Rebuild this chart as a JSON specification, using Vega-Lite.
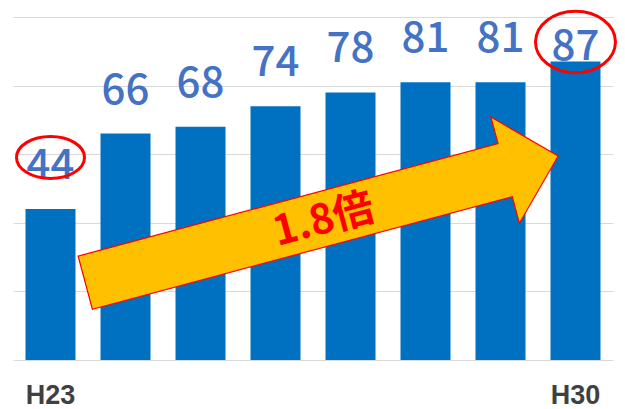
{
  "$schema": "https://vega.github.io/schema/vega-lite/v6.json",
  "width": 600,
  "height": 343,
  "autosize": {"type": "none"},
  "padding": {"left": 13, "top": 17, "right": 12, "bottom": 49},
  "background": "white",
  "config": {"view": {"stroke": null}},
  "data": {"values": [
    {"year": "H23", "value": 44},
    {"year": "H24", "value": 66},
    {"year": "H25", "value": 68},
    {"year": "H26", "value": 74},
    {"year": "H27", "value": 78},
    {"year": "H28", "value": 81},
    {"year": "H29", "value": 81},
    {"year": "H30", "value": 87}
  ]},
  "encoding": {
    "x": {
      "field": "year", "type": "nominal", "sort": null,
      "scale": {"paddingInner": 0.3333, "paddingOuter": 0.1667},
      "axis": {
        "title": null, "domain": false, "ticks": false, "tickSize": 0, "grid": false,
        "labelExpr": "datum.value == 'H23' || datum.value == 'H30' ? datum.value : ''",
        "labelFont": "Liberation Sans", "labelFontSize": 27, "labelFontWeight": "bold",
        "labelColor": "#404040", "labelBaseline": "alphabetic", "labelPadding": 43,
        "labelAngle": 0, "labelOverlap": false
      }
    },
    "y": {
      "field": "value", "type": "quantitative",
      "scale": {"domain": [0, 100], "nice": false},
      "axis": {
        "title": null, "labels": false, "ticks": false, "domain": false,
        "values": [0, 20, 40, 60, 80, 100], "gridColor": "#d9d9d9", "gridWidth": 1
      }
    }
  },
  "layer": [
    {"mark": {"type": "bar", "color": "#0070C0"}},
    {
      "transform": [{"filter": "datum.year != 'H30'"}],
      "mark": {"type": "text", "font": "Noto Sans CJK JP", "fontSize": 42, "fontWeight": 500, "color": "#4472C4", "baseline": "alphabetic", "dy": -30},
      "encoding": {"text": {"field": "value"}}
    },
    {
      "transform": [{"filter": "datum.year == 'H30'"}],
      "mark": {"type": "text", "font": "Noto Sans CJK JP", "fontSize": 42, "fontWeight": 500, "color": "#4472C4", "baseline": "alphabetic", "dy": -2},
      "encoding": {"text": {"field": "value"}}
    },
    {
      "transform": [{"filter": "datum.year == 'H27'"}],
      "mark": {
        "type": "point",
        "shape": "M-2.717,-0.383L1.63,-0.383L1.63,-0.658L2.179,-0.108L1.63,0.442L1.63,0.167L-2.717,0.167Z",
        "size": 40000, "angle": -15, "filled": true, "fill": "#FFC000",
        "stroke": "#FF0000", "strokeWidth": 1.2, "opacity": 1
      },
      "encoding": {"y": {"datum": 40, "type": "quantitative"}}
    },
    {
      "transform": [{"filter": "datum.year == 'H27'"}],
      "mark": {
        "type": "text", "text": "1.8倍", "font": "Noto Sans CJK JP", "fontSize": 41, "fontWeight": "bold",
        "color": "#FF0000", "angle": -15, "align": "center", "baseline": "middle",
        "xOffset": -26.5, "yOffset": -1.8
      },
      "encoding": {"y": {"datum": 40, "type": "quantitative"}}
    },
    {
      "transform": [{"filter": "datum.year == 'H23'"}],
      "mark": {
        "type": "point", "shape": "M-1,0A1,0.618 0 1,1 1,0A1,0.618 0 1,1 -1,0Z",
        "size": 4624, "filled": false, "stroke": "#FF0000", "strokeWidth": 3, "opacity": 1, "yOffset": -51.6
      }
    },
    {
      "transform": [{"filter": "datum.year == 'H30'"}],
      "mark": {
        "type": "point", "shape": "M-1,0A1,0.77 0 1,1 1,0A1,0.77 0 1,1 -1,0Z",
        "size": 6400, "filled": false, "stroke": "#FF0000", "strokeWidth": 3, "opacity": 1, "yOffset": -19.6
      }
    }
  ]
}
